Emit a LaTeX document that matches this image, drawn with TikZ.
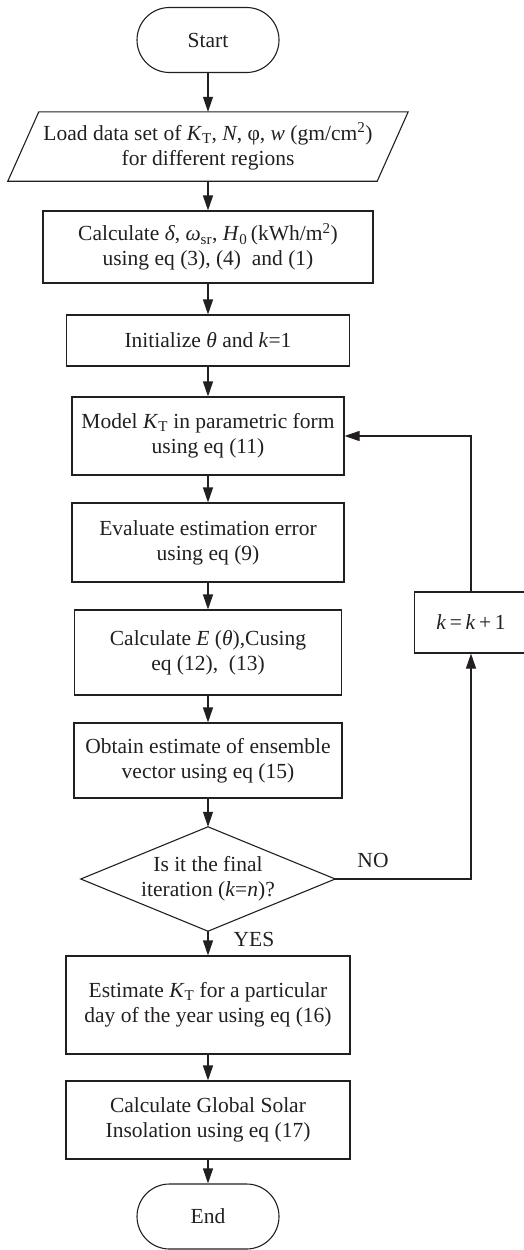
\documentclass[tikz,border=0pt]{standalone}
\usepackage{fontspec}
\setmainfont{Liberation Serif}
\usetikzlibrary{arrows.meta,calc}
\definecolor{ink}{HTML}{231F20}
\tikzset{
  base/.style={inner sep=0pt, align=center, font=\fontsize{21.5}{25}\selectfont, text=ink},
  boxx/.style={base, draw=ink, line width=1.1pt, rectangle},
  term/.style={base, draw=ink, line width=1.1pt, rectangle, rounded corners=32.5pt, minimum width=142pt, minimum height=65pt},
  plain/.style={base, rectangle},
  conn/.style={draw=ink, line width=1.1pt, -{Triangle[length=15pt,width=10pt]}},
  line/.style={draw=ink, line width=1.1pt},
  lab/.style={base}
}
\begin{document}
\begin{tikzpicture}[x=1pt,y=-1pt]
\useasboundingbox (0,0) rectangle (524,1250);
\node[term] (start) at (208,40) {Start};
\node[plain, minimum width=369pt, minimum height=69pt] (load) at (208,146.5)
  {Load data set of \textit{K}\textsubscript{T}, \textit{N}, φ, \textit{w} (gm/cm\textsuperscript{2})\\for different regions};
\draw[line] ($(load.north west)+(15.5,0)$) -- ($(load.north east)+(15.5,0)$) -- ($(load.south east)+(-15.5,0)$) -- ($(load.south west)+(-15.5,0)$) -- cycle;
\node[boxx, minimum width=330pt, minimum height=72pt] (calc) at (208,247)
  {Calculate \textit{δ}, \textit{ω}\textsubscript{sr}, \textit{H}\textsubscript{0}\,(kWh/m\textsuperscript{2})\\using eq (3), (4) \ and (1)};
\node[boxx, minimum width=283pt, minimum height=51pt] (init) at (208,340.5)
  {Initialize \textit{θ} and \textit{k}=1};
\node[boxx, minimum width=272pt, minimum height=78pt] (model) at (208,436)
  {Model \textit{K}\textsubscript{T} in parametric form\\using eq (11)};
\node[boxx, minimum width=272pt, minimum height=79pt] (eval) at (208,542.5)
  {Evaluate estimation error\\using eq (9)};
\node[boxx, minimum width=267pt, minimum height=85pt] (calcE) at (208,652.5)
  {Calculate \textit{E} (\textit{θ}),Cusing\\eq (12), \ (13)};
\node[boxx, minimum width=268pt, minimum height=75pt] (obtain) at (208,760.5)
  {Obtain estimate of ensemble\\vector using eq (15)};
\node[plain, minimum width=254pt, minimum height=104pt] (dec) at (208,879)
  {Is it the final\\iteration (\textit{k}=\textit{n})?};
\draw[line] (dec.north) -- (dec.east) -- (dec.south) -- (dec.west) -- cycle;
\node[boxx, minimum width=113pt, minimum height=61pt] (kbox) at (471,622.5)
  {\textit{k}\,=\,\textit{k}\,+\,1};
\node[boxx, minimum width=284pt, minimum height=98pt] (est) at (208,1005)
  {Estimate \textit{K}\textsubscript{T} for a particular\\day of the year using eq (16)};
\node[boxx, minimum width=284pt, minimum height=78pt] (glob) at (208,1120)
  {Calculate Global Solar\\Insolation using eq (17)};
\node[term] (end) at (208,1216.5) {End};
\node[lab] (no) at (373,860) {NO};
\node[lab] (yes) at (254,939) {YES};
\coordinate (nocorner) at (471,879);
\draw[conn] (start) -- (load);
\draw[conn] (load) -- (calc);
\draw[conn] (calc) -- (init);
\draw[conn] (init) -- (model);
\draw[conn] (model) -- (eval);
\draw[conn] (eval) -- (calcE);
\draw[conn] (calcE) -- (obtain);
\draw[conn] (obtain) -- (dec.north);
\draw[conn] (dec.south) -- (est);
\draw[conn] (est) -- (glob);
\draw[conn] (glob) -- (end);
\draw[conn] (dec.east) -- (nocorner) -- (kbox.south);
\draw[conn] (kbox.north) |- (model.east);
\end{tikzpicture}
\end{document}
